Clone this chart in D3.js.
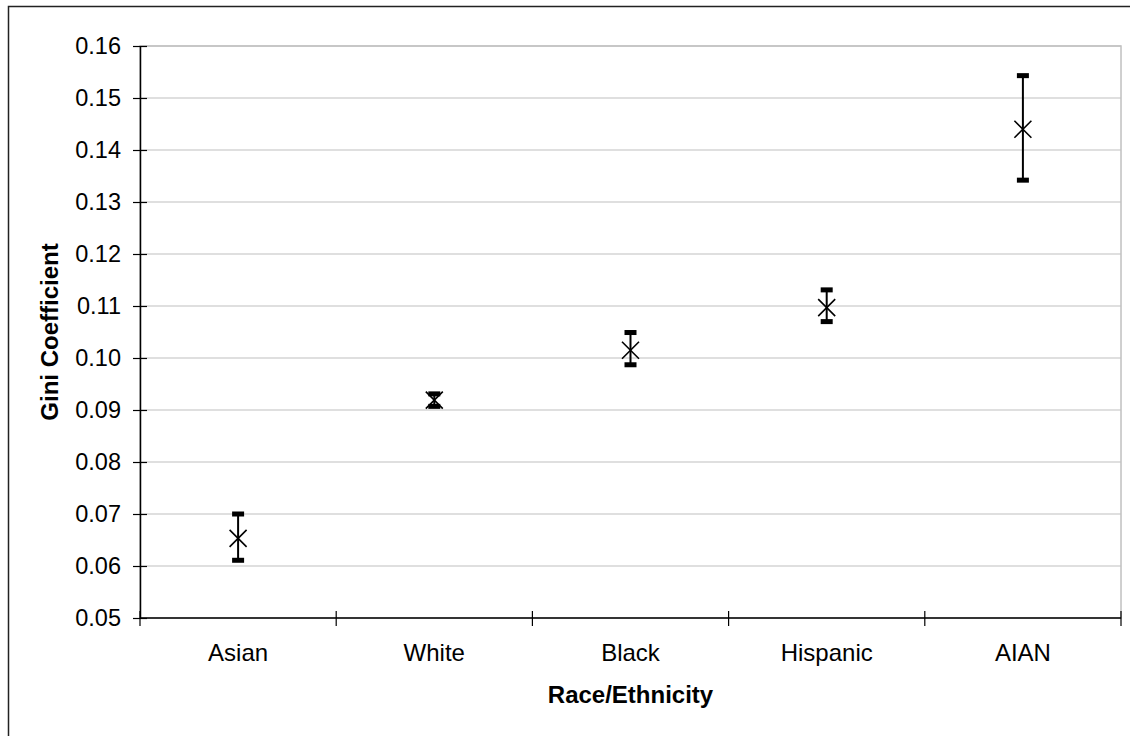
<!DOCTYPE html>
<html><head><meta charset="utf-8">
<script src="https://cdn.jsdelivr.net/npm/d3@7"></script>
<style>body{margin:0;background:#fff}svg{display:block}text{font-family:Arial,"Liberation Sans",sans-serif}</style>
</head><body>
<svg id="c" width="1130" height="736"></svg>
<script>
const categories = ["Asian", "White", "Black", "Hispanic", "AIAN"];
const gini = [0.0653, 0.0919, 0.1015, 0.1097, 0.1440];
const upper = [0.0700, 0.0931, 0.1049, 0.1131, 0.1543];
const lower = [0.0611, 0.0907, 0.0987, 0.1070, 0.1342];
const yTicks = [0.05, 0.06, 0.07, 0.08, 0.09, 0.10, 0.11, 0.12, 0.13, 0.14, 0.15, 0.16];

const svg = d3.select("#c");
const L = 140, R = 1121, T = 46, B = 618;
const x = d3.scaleBand().domain(categories).range([L, R]);
const y = d3.scaleLinear().domain([0.05, 0.16]).range([B, T]);

// outer border
svg.append("rect").attr("x", 8.5).attr("y", 6.5).attr("width", 1130).attr("height", 740)
  .attr("fill", "none").attr("stroke", "#222").attr("stroke-width", 1.5);

// plot area border (gray)
svg.append("rect").attr("x", L).attr("y", T).attr("width", R - L).attr("height", B - T)
  .attr("fill", "none").attr("stroke", "#c0c0c0").attr("stroke-width", 1.5);

// gridlines
svg.append("g").selectAll("line").data(yTicks.filter(d => d > 0.05)).join("line")
  .attr("x1", L).attr("x2", R).attr("y1", d => y(d)).attr("y2", d => y(d))
  .attr("stroke", "#c0c0c0").attr("stroke-width", 1.2);

// y axis
const yAxis = d3.axisLeft(y).tickValues(yTicks).tickFormat(d3.format(".2f")).tickSizeInner(7).tickSizeOuter(0).tickPadding(12);
const gy = svg.append("g").attr("transform", `translate(${L},0)`).call(yAxis);
gy.select(".domain").attr("stroke", "#000").attr("stroke-width", 1.5);
gy.selectAll(".tick line").attr("stroke", "#000").attr("x2", -7).attr("x1", 7).attr("stroke-width", 1.2);
gy.selectAll(".tick text").attr("font-size", 23.5).attr("fill", "#000").attr("font-family", "Arial, 'Liberation Sans', sans-serif");

// x axis
svg.append("line").attr("x1", L).attr("x2", R).attr("y1", B).attr("y2", B).attr("stroke", "#000").attr("stroke-width", 1.5);
const bounds = categories.map(c => x(c)).concat([R]);
svg.append("g").selectAll("line").data(bounds).join("line")
  .attr("x1", d => d).attr("x2", d => d).attr("y1", B - 7).attr("y2", B + 8)
  .attr("stroke", "#000").attr("stroke-width", 1.2);
svg.append("g").selectAll("text").data(categories).join("text")
  .attr("x", d => x(d) + x.bandwidth() / 2).attr("y", 661).attr("text-anchor", "middle")
  .attr("font-size", 24).text(d => d);

// axis titles
svg.append("text").attr("x", (L + R) / 2).attr("y", 703).attr("text-anchor", "middle")
  .attr("font-size", 24).attr("font-weight", "bold").text("Race/Ethnicity");
svg.append("text").attr("transform", `translate(58,${(T + B) / 2}) rotate(-90)`).attr("text-anchor", "middle")
  .attr("font-size", 24).attr("font-weight", "bold").text("Gini Coefficient");

// error bars and markers
const g = svg.append("g");
categories.forEach((c, i) => {
  const cx = x(c) + x.bandwidth() / 2;
  g.append("line").attr("x1", cx).attr("x2", cx).attr("y1", y(upper[i])).attr("y2", y(lower[i]))
    .attr("stroke", "#000").attr("stroke-width", 2);
  [upper[i], lower[i]].forEach(v => {
    g.append("rect").attr("x", cx - 6).attr("y", y(v) - 2.5).attr("width", 12).attr("height", 5).attr("fill", "#000");
  });
  const py = y(gini[i]), s = 8.5;
  g.append("path").attr("d", `M${cx - s},${py - s}L${cx + s},${py + s}M${cx - s},${py + s}L${cx + s},${py - s}`)
    .attr("stroke", "#000").attr("stroke-width", 1.6).attr("fill", "none");
});
</script>
</body></html>
